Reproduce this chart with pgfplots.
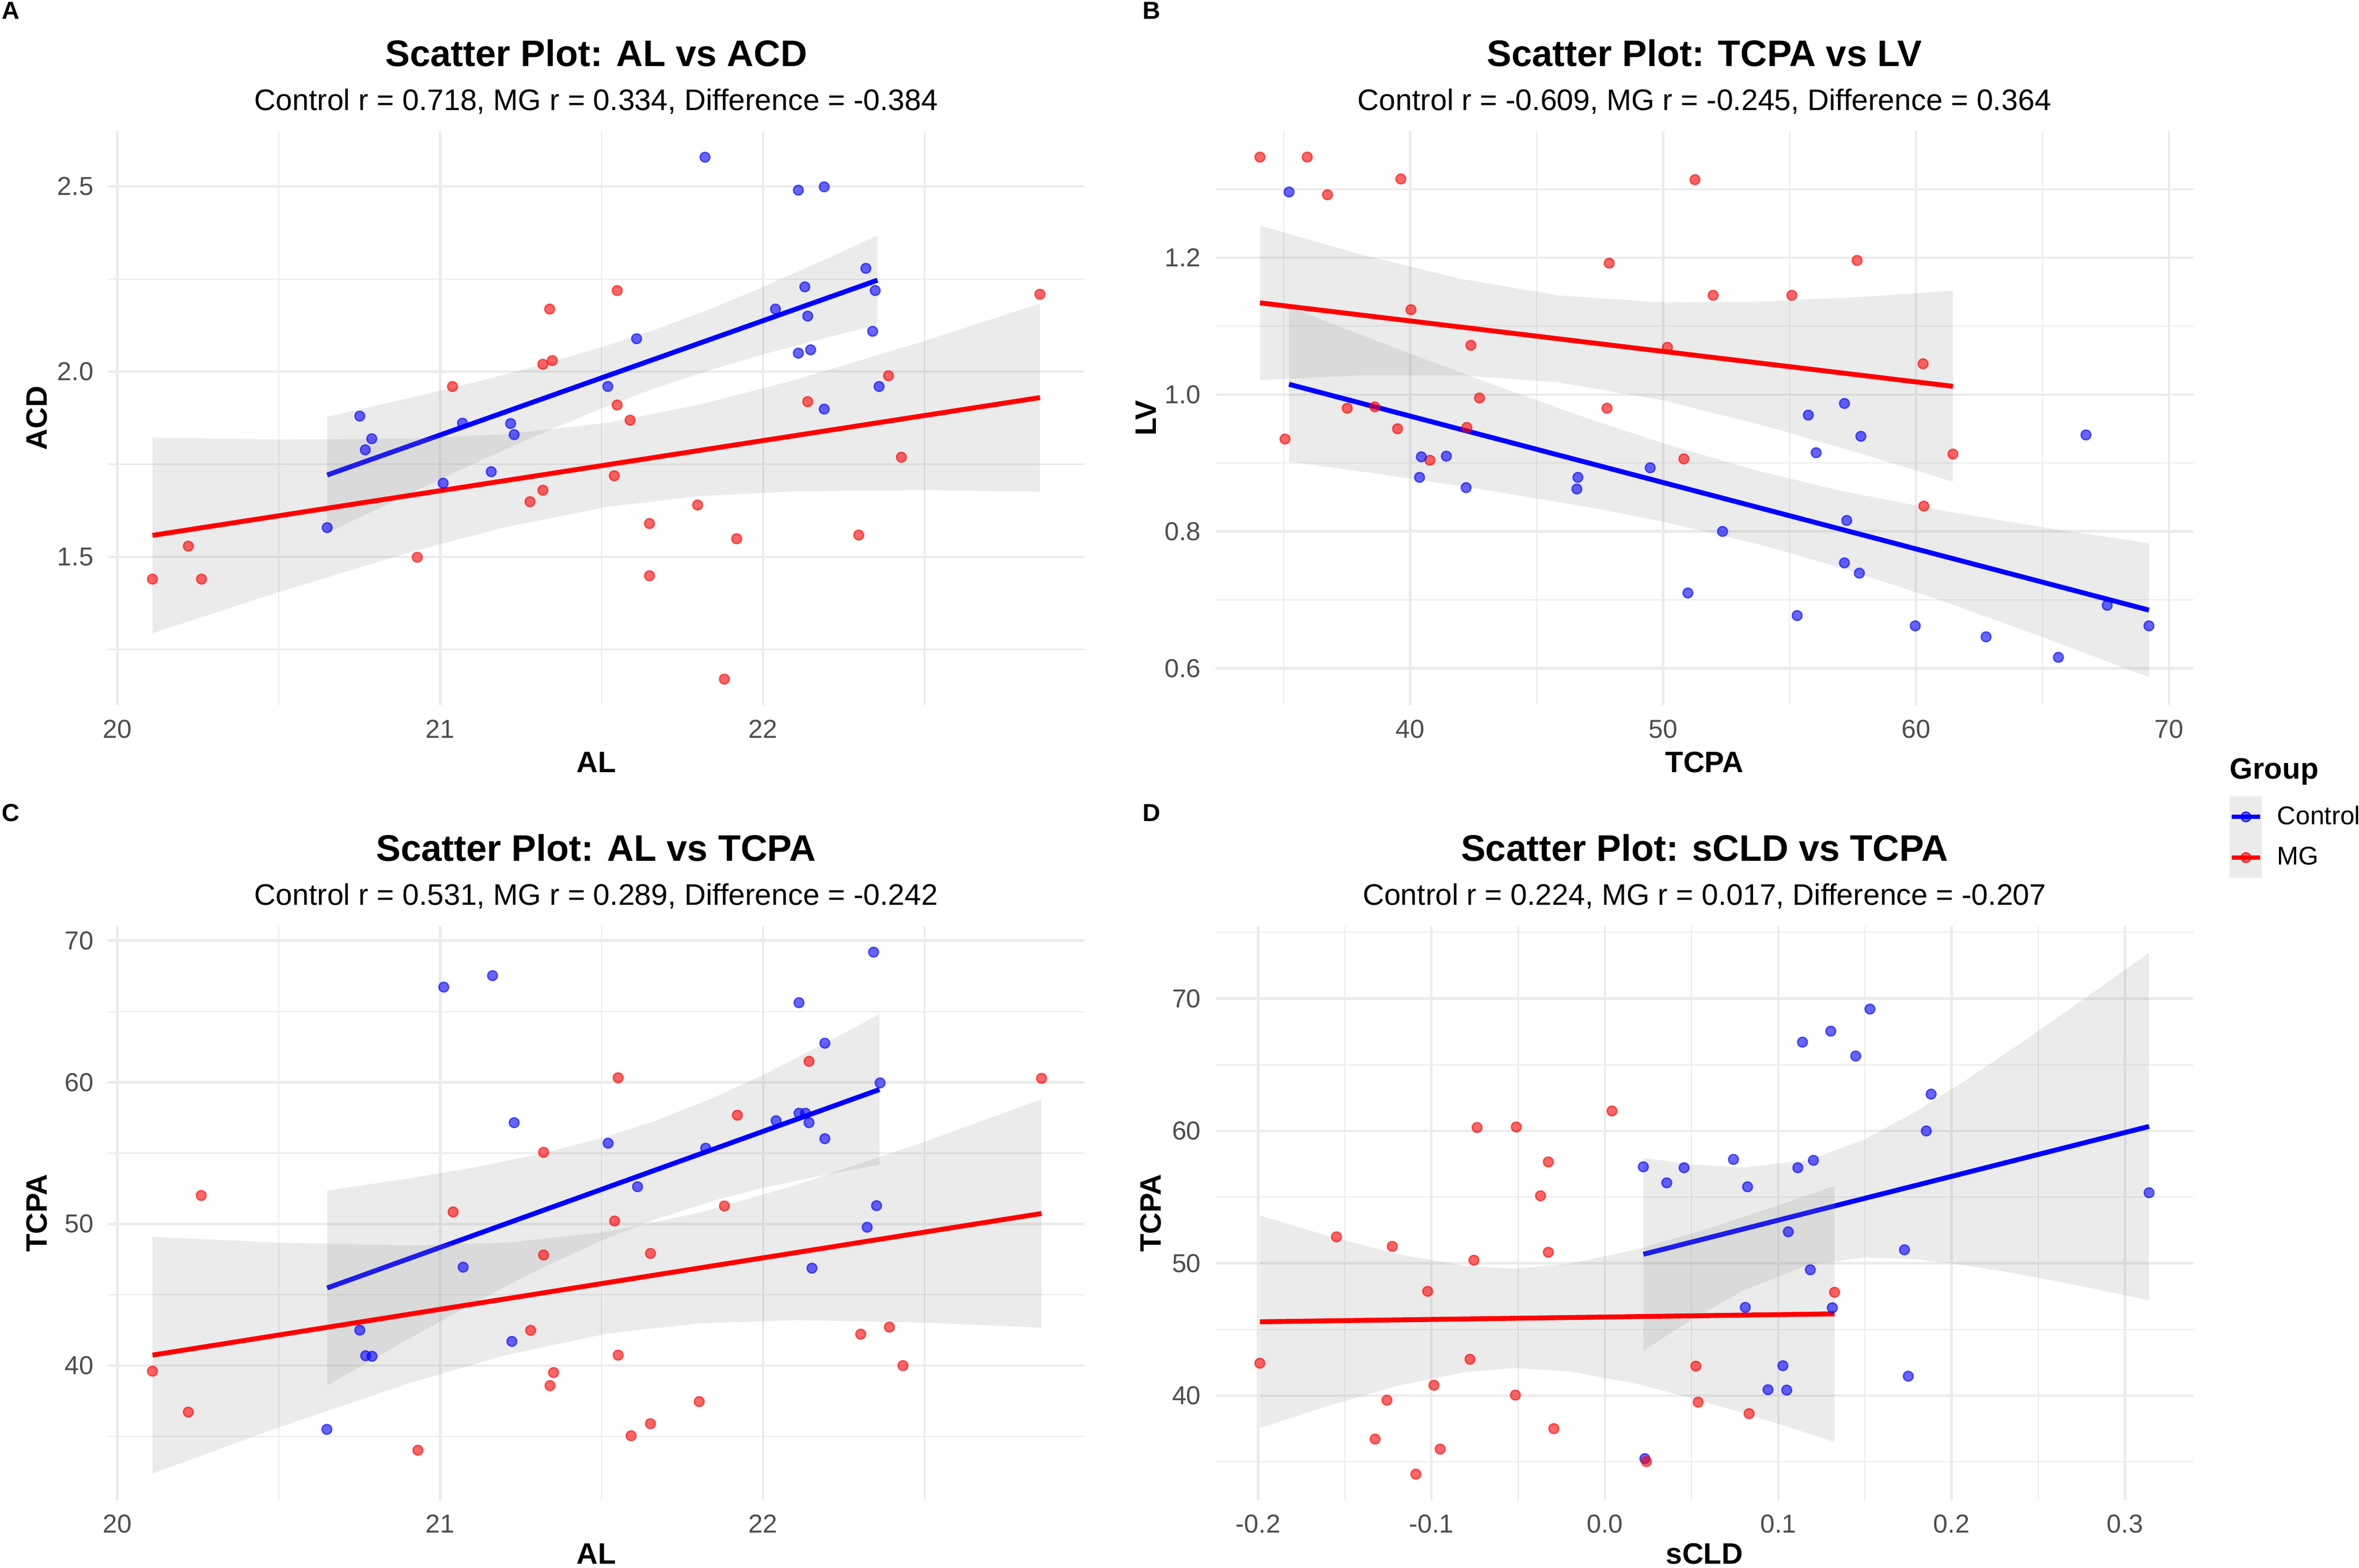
\documentclass[border=0pt]{standalone}
\usepackage{fontspec}
\setmainfont{Liberation Sans}
\usepackage{pgfplots}
\pgfplotsset{compat=1.18}
\definecolor{gridgray}{HTML}{EBEBEB}
\definecolor{tickgray}{HTML}{4D4D4D}
\definecolor{ribbongray}{HTML}{999999}
\definecolor{keygray}{HTML}{EBEBEB}
\definecolor{ctrlblue}{HTML}{0000FF}
\definecolor{mgred}{HTML}{FF0000}
\newcommand\ticksize{\fontsize{11.6}{13}\selectfont}
\newcommand\titlefont{\fontsize{16.5}{19}\selectfont\bfseries}
\newcommand\subfont{\fontsize{13.3}{15}\selectfont}
\newcommand\labfont{\fontsize{13.2}{15}\selectfont\bfseries}
\newcommand\legfont{\fontsize{11.5}{13}\selectfont}
\newcommand\letterfont{\fontsize{11}{13}\selectfont\bfseries}
\pgfplotsset{
 panel/.style={
   anchor=south west, scale only axis, clip=false,
   axis line style={draw=none},
   major tick length=0pt, minor tick length=0pt,
   tick style={draw=none},
   xmajorgrids, ymajorgrids, xminorgrids, yminorgrids,
   major grid style={draw=gridgray, line width=1.07pt},
   minor grid style={draw=gridgray, line width=0.53pt},
   tick label style={font=\ticksize, text=tickgray},
   xticklabel style={anchor=north, inner sep=0pt, yshift=-6.3pt},
   yticklabel style={anchor=east, inner sep=0pt, xshift=-6.3pt},
   height=256.6pt,
 },
 ctrlpts/.style={forget plot, only marks, mark=*, mark size=2.2pt,
   mark options={draw=ctrlblue, fill=ctrlblue, fill opacity=0.6, draw opacity=0.6, line width=0.6pt}},
 mgpts/.style={forget plot, only marks, mark=*, mark size=2.2pt,
   mark options={draw=mgred, fill=mgred, fill opacity=0.6, draw opacity=0.6, line width=0.6pt}},
 band/.style={forget plot, draw=none, fill=ribbongray, fill opacity=0.2},
 ctrlline/.style={forget plot, draw=ctrlblue, line width=2.2pt, no markers},
 mgline/.style={forget plot, draw=mgred, line width=2.2pt, no markers},
}
\begin{document}
\begin{tikzpicture}
\path[use as bounding box] (0,0) rectangle (1054.08pt,700.8pt);

% ---------------- Panel A ----------------
\begin{axis}[panel, at={(48.3pt,385.6pt)}, width=436.2pt,
  xmin=19.9716, xmax=22.9944, ymin=1.0995, ymax=2.6495,
  xtick={20,21,22}, xticklabels={20,21,22},
  minor xtick={20.5,21.5,22.5},
  ytick={1.5,2.0,2.5}, yticklabels={1.5,2.0,2.5},
  minor ytick={1.25,1.75,2.25}]
\addplot[ctrlpts] coordinates {(21.82,2.579)(22.109,2.490)(22.189,2.499)(22.318,2.279)(22.129,2.229)(22.347,2.219)(22.038,2.169)(22.138,2.150)(22.339,2.109)(21.608,2.089)(22.147,2.059)(22.109,2.050)(21.519,1.960)(22.359,1.960)(22.189,1.899)(20.751,1.880)(21.069,1.861)(21.218,1.860)(20.788,1.819)(21.229,1.830)(20.768,1.789)(21.158,1.730)(21.009,1.699)(20.650,1.579)};
\addplot[mgpts] coordinates {(20.109,1.440)(20.220,1.529)(20.261,1.440)(20.929,1.499)(21.038,1.960)(21.339,2.169)(21.318,2.020)(21.347,2.030)(21.278,1.649)(21.318,1.680)(21.548,2.219)(21.548,1.910)(21.588,1.869)(21.539,1.719)(21.648,1.590)(21.648,1.449)(21.797,1.640)(21.880,1.170)(21.918,1.549)(22.138,1.919)(22.296,1.559)(22.388,1.989)(22.428,1.769)(22.857,2.209)};
\addplot[band] coordinates {(20.65,1.878)(20.9,1.928)(21.1,1.970)(21.3,2.015)(21.5,2.066)(21.667,2.114)(21.85,2.174)(22.0,2.229)(22.2,2.306)(22.354,2.368)(22.354,2.126)(22.2,2.093)(22.0,2.047)(21.85,2.008)(21.667,1.956)(21.5,1.901)(21.3,1.828)(21.1,1.750)(20.9,1.669)(20.65,1.564)};
\addplot[ctrlline] coordinates {(20.65,1.721)(22.354,2.247)};
\addplot[band] coordinates {(20.109,1.822)(20.5,1.817)(20.9,1.819)(21.2,1.831)(21.516,1.862)(21.8,1.910)(22.1,1.978)(22.5,2.083)(22.857,2.184)(22.857,1.676)(22.5,1.680)(22.1,1.677)(21.8,1.664)(21.516,1.635)(21.2,1.580)(20.9,1.511)(20.5,1.405)(20.109,1.294)};
\addplot[mgline] coordinates {(20.109,1.558)(22.857,1.930)};
\node[anchor=base, font=\titlefont, yshift=29pt] at (axis description cs:0.5,1) {Scatter Plot: AL vs ACD};
\node[anchor=base, font=\subfont, yshift=9.3pt] at (axis description cs:0.5,1) {Control r = 0.718, MG r = 0.334, Difference = -0.384};
\node[anchor=base, font=\labfont, yshift=-30pt] at (axis description cs:0.5,0) {AL};
\node[anchor=base, font=\labfont, rotate=90] at ([xshift=-27.2pt]axis description cs:0,0.5) {ACD};
\end{axis}

% ---------------- Panel B ----------------
\begin{axis}[panel, at={(543.1pt,385.6pt)}, width=437.0pt,
  xmin=32.30, xmax=70.97, ymin=0.546, ymax=1.385,
  xtick={40,50,60,70}, xticklabels={40,50,60,70},
  minor xtick={35,45,55,65},
  ytick={0.6,0.8,1.0,1.2}, yticklabels={0.6,0.8,1.0,1.2},
  minor ytick={0.7,0.9,1.1,1.3},
  legend style={at={(1.0368,-0.159)}, anchor=north west, draw=none, fill=none,
    inner sep=0pt, outer sep=0pt, row sep=0pt, column sep=6.7pt,
    font=\legfont, nodes={inner sep=0pt}, cells={anchor=west}},
  legend cell align=left]
\addplot[mgpts] coordinates {(34.06,1.347)(35.93,1.347)(36.73,1.292)(39.63,1.315)(51.26,1.314)(47.87,1.192)(57.67,1.196)(51.98,1.145)(55.09,1.145)(40.03,1.124)(42.40,1.072)(50.17,1.069)(60.28,1.045)(42.74,0.995)(37.51,0.980)(38.60,0.982)(47.78,0.980)(35.05,0.935)(39.50,0.950)(42.24,0.952)(40.78,0.904)(50.82,0.906)(61.46,0.913)(60.31,0.837)};
\addplot[ctrlpts] coordinates {(35.21,1.296)(57.17,0.987)(55.74,0.970)(57.82,0.939)(66.72,0.941)(56.05,0.915)(40.44,0.909)(41.43,0.910)(40.37,0.879)(42.21,0.864)(46.63,0.879)(46.59,0.862)(49.49,0.893)(52.35,0.800)(57.26,0.816)(57.17,0.754)(57.76,0.739)(50.98,0.710)(55.30,0.677)(59.97,0.662)(62.77,0.646)(65.63,0.616)(67.56,0.692)(69.21,0.662)};
\addplot[band] coordinates {(35.21,1.128)(39,1.0737)(43,1.0182)(47,0.9653)(50,0.9288)(53.83,0.8878)(57,0.8596)(61,0.8305)(65,0.806)(69.21,0.783)(69.21,0.587)(65,0.6458)(61,0.6989)(57,0.7474)(53.83,0.7808)(50,0.8142)(47,0.8359)(43,0.8606)(39,0.8827)(35.21,0.902)};
\addplot[ctrlline] coordinates {(35.21,1.015)(69.21,0.685)};
\addplot[band] coordinates {(34.06,1.247)(38,1.205)(42,1.169)(45.83,1.145)(50,1.1345)(54,1.136)(58,1.143)(61.46,1.1515)(61.46,0.8725)(58,0.9118)(54,0.9545)(50,0.9915)(45.83,1.018)(42,1.028)(38,1.028)(34.06,1.021)};
\addplot[mgline] coordinates {(34.06,1.134)(61.46,1.012)};
\addlegendimage{legend image code/.code={
  \fill[keygray] (0pt,-8.9pt) rectangle (14pt,8.9pt);
  \draw[ctrlblue, line width=1.9pt] (0.6pt,0pt) -- (13.4pt,0pt);
  \fill[ctrlblue, fill opacity=0.6] (7pt,0pt) circle (2.2pt);}}
\addlegendentry{Control}
\addlegendimage{legend image code/.code={
  \fill[keygray] (0pt,-8.9pt) rectangle (14pt,8.9pt);
  \draw[mgred, line width=1.9pt] (0.6pt,0pt) -- (13.4pt,0pt);
  \fill[mgred, fill opacity=0.6] (7pt,0pt) circle (2.2pt);}}
\addlegendentry{MG}
\node[anchor=base, font=\titlefont, yshift=29pt] at (axis description cs:0.5,1) {Scatter Plot: TCPA vs LV};
\node[anchor=base, font=\subfont, yshift=9.3pt] at (axis description cs:0.5,1) {Control r = -0.609, MG r = -0.245, Difference = 0.364};
\node[anchor=base, font=\labfont, yshift=-30pt] at (axis description cs:0.5,0) {TCPA};
\node[anchor=base, font=\labfont, rotate=90] at ([xshift=-26.5pt]axis description cs:0,0.5) {LV};
\end{axis}

% ---------------- Panel C ----------------
\begin{axis}[panel, at={(48.3pt,30.3pt)}, width=436.2pt,
  xmin=19.9716, xmax=22.9944, ymin=30.50, ymax=71.03,
  xtick={20,21,22}, xticklabels={20,21,22},
  minor xtick={20.5,21.5,22.5},
  ytick={40,50,60,70}, yticklabels={40,50,60,70},
  minor ytick={35,45,55,65}]
\addplot[ctrlpts] coordinates {(22.342,69.19)(21.162,67.53)(21.011,66.72)(22.111,65.62)(22.191,62.76)(22.362,59.96)(21.229,57.15)(22.040,57.29)(22.111,57.82)(22.131,57.82)(22.142,57.15)(21.520,55.70)(21.822,55.35)(22.191,56.02)(21.611,52.63)(22.351,51.29)(22.322,49.77)(21.071,46.95)(22.151,46.88)(20.751,42.50)(20.769,40.70)(20.789,40.66)(21.222,41.71)(20.649,35.50)};
\addplot[mgpts] coordinates {(22.862,60.28)(21.551,60.32)(22.142,61.48)(21.920,57.68)(21.320,55.06)(21.040,50.85)(20.260,52.01)(21.540,50.21)(21.880,51.27)(21.320,47.81)(21.651,47.92)(21.280,42.49)(22.302,42.22)(22.391,42.72)(21.551,40.74)(20.109,39.61)(22.433,40.00)(21.351,39.51)(21.340,38.59)(20.220,36.72)(21.802,37.46)(21.651,35.90)(21.591,35.05)(20.931,34.03)};
\addplot[band] coordinates {(20.65,52.36)(20.9,53.20)(21.1,53.97)(21.3,54.89)(21.5,56.06)(21.667,57.29)(21.85,58.95)(22.0,60.52)(22.2,62.85)(22.36,64.80)(22.36,54.18)(22.2,53.51)(22.0,52.56)(21.85,51.67)(21.667,50.33)(21.5,48.84)(21.3,46.73)(21.1,44.37)(20.9,41.86)(20.65,38.60)};
\addplot[ctrlline] coordinates {(20.65,45.48)(22.36,59.49)};
\addplot[band] coordinates {(20.109,49.09)(20.5,48.68)(20.9,48.49)(21.2,48.67)(21.516,49.44)(21.8,50.78)(22.1,52.73)(22.5,55.80)(22.862,58.80)(22.862,42.68)(22.5,43.04)(22.1,43.21)(21.8,42.98)(21.516,42.26)(21.2,40.73)(20.9,38.73)(20.5,35.64)(20.109,32.39)};
\addplot[mgline] coordinates {(20.109,40.74)(22.862,50.74)};
\node[anchor=base, font=\titlefont, yshift=29pt] at (axis description cs:0.5,1) {Scatter Plot: AL vs TCPA};
\node[anchor=base, font=\subfont, yshift=9.3pt] at (axis description cs:0.5,1) {Control r = 0.531, MG r = 0.289, Difference = -0.242};
\node[anchor=base, font=\labfont, yshift=-28.6pt] at (axis description cs:0.5,0) {AL};
\node[anchor=base, font=\labfont, rotate=90] at ([xshift=-27.2pt]axis description cs:0,0.5) {TCPA};
\end{axis}

% ---------------- Panel D ----------------
\begin{axis}[panel, at={(543.1pt,30.3pt)}, width=437.0pt,
  xmin=-0.2246, xmax=0.3395, ymin=32.10, ymax=75.48,
  xtick={-0.2,-0.1,0,0.1,0.2,0.3}, xticklabels={-0.2,-0.1,0.0,0.1,0.2,0.3},
  minor xtick={-0.15,-0.05,0.05,0.15,0.25},
  ytick={40,50,60,70}, yticklabels={40,50,60,70},
  minor ytick={35,45,55,65,75}]
\addplot[ctrlpts] coordinates {(0.1529,69.21)(0.1303,67.54)(0.1140,66.71)(0.1447,65.66)(0.1882,62.78)(0.1854,60.00)(0.0742,57.85)(0.1203,57.78)(0.1113,57.22)(0.0457,57.22)(0.0222,57.29)(0.0357,56.08)(0.0823,55.78)(0.3139,55.33)(0.1058,52.38)(0.1728,51.02)(0.1185,49.51)(0.0810,46.67)(0.1312,46.64)(0.1027,42.26)(0.0941,40.45)(0.1049,40.42)(0.1750,41.47)(0.0231,35.24)};
\addplot[mgpts] coordinates {(0.0041,61.51)(-0.0737,60.26)(-0.0511,60.30)(-0.0326,57.66)(-0.0371,55.10)(-0.1548,52.00)(-0.1226,51.28)(-0.0755,50.23)(-0.0326,50.83)(-0.1022,47.88)(0.1325,47.81)(-0.1990,42.45)(-0.0778,42.75)(0.0525,42.23)(-0.0986,40.79)(-0.0516,40.04)(-0.1257,39.66)(0.0538,39.51)(0.0832,38.64)(-0.0294,37.51)(-0.1325,36.72)(-0.0950,35.96)(0.0240,35.02)(-0.1090,34.07)};
\addplot[band] coordinates {(0.0222,57.96)(0.05,57.47)(0.08,57.24)(0.1179,57.81)(0.15,59.37)(0.18,61.51)(0.21,63.99)(0.24,66.64)(0.27,69.38)(0.3139,73.47)(0.3139,47.21)(0.27,48.40)(0.24,49.15)(0.21,49.81)(0.18,50.30)(0.15,50.45)(0.1179,49.89)(0.08,47.95)(0.05,45.73)(0.0222,43.40)};
\addplot[ctrlline] coordinates {(0.0222,50.68)(0.3139,60.34)};
\addplot[band] coordinates {(-0.199,53.61)(-0.16,52.08)(-0.12,50.71)(-0.08,49.79)(-0.0521,49.60)(-0.02,49.97)(0.02,51.10)(0.06,52.64)(0.1,54.38)(0.1325,55.86)(0.1325,36.50)(0.1,37.87)(0.06,39.46)(0.02,40.85)(-0.02,41.83)(-0.0521,42.08)(-0.08,41.80)(-0.12,40.73)(-0.16,39.22)(-0.199,37.55)};
\addplot[mgline] coordinates {(-0.199,45.58)(0.1325,46.18)};
\node[anchor=base, font=\titlefont, yshift=29pt] at (axis description cs:0.5,1) {Scatter Plot: sCLD vs TCPA};
\node[anchor=base, font=\subfont, yshift=9.3pt] at (axis description cs:0.5,1) {Control r = 0.224, MG r = 0.017, Difference = -0.207};
\node[anchor=base, font=\labfont, yshift=-28.6pt] at (axis description cs:0.5,0) {sCLD};
\node[anchor=base, font=\labfont, rotate=90] at ([xshift=-24.4pt]axis description cs:0,0.5) {TCPA};
\end{axis}

% panel tags and legend title
\node[anchor=base west, inner sep=0pt, font=\letterfont] at (0.6pt,692.3pt) {A};
\node[anchor=base west, inner sep=0pt, font=\letterfont] at (510.3pt,692.3pt) {B};
\node[anchor=base west, inner sep=0pt, font=\letterfont] at (0.6pt,333.6pt) {C};
\node[anchor=base west, inner sep=0pt, font=\letterfont] at (510.3pt,333.6pt) {D};
\node[anchor=base west, inner sep=0pt, font=\labfont] at (996.2pt,352.6pt) {Group};
\end{tikzpicture}
\end{document}
